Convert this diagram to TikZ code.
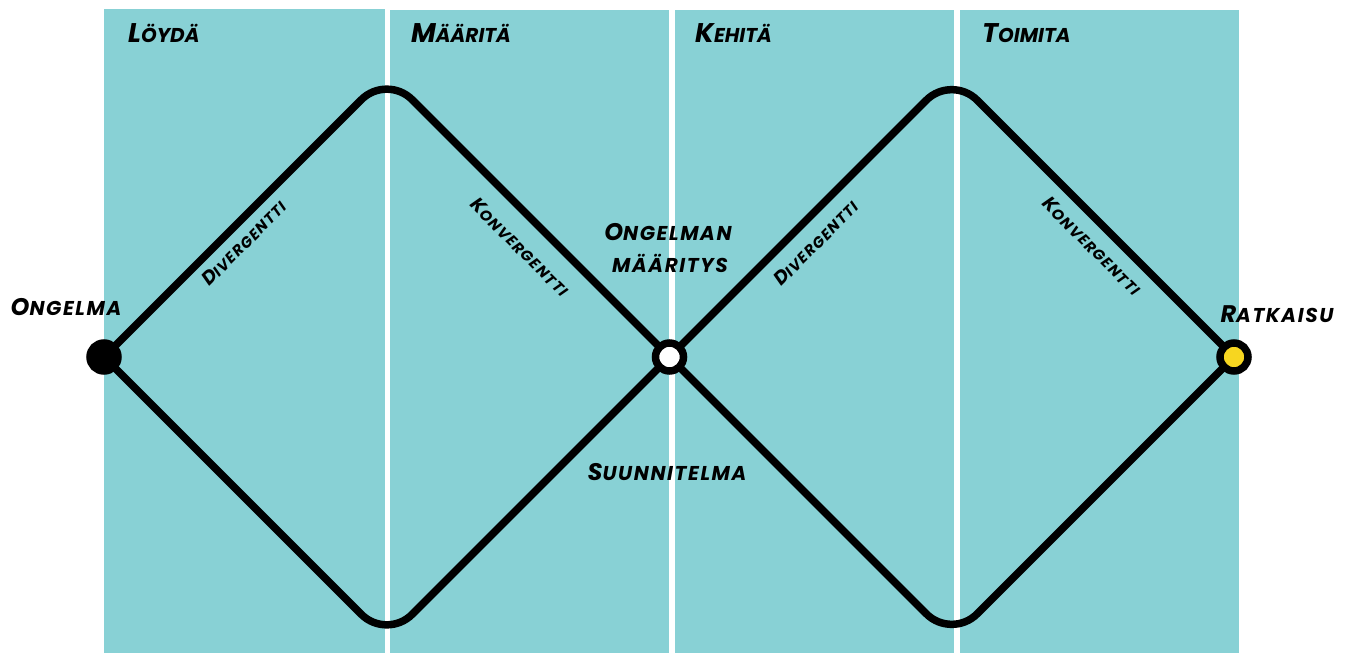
\documentclass[tikz,border=0pt]{standalone}
\usepackage{fontspec}
\setmainfont{Poppins}
\newfontfamily\spaced{Poppins}[LetterSpace=8]
\definecolor{panel}{HTML}{88D1D5}
\definecolor{sun}{HTML}{F7D620}
\newcommand\tsc[4]{{\fontsize{#1}{#1}\selectfont #3}{\fontsize{#2}{#2}\selectfont #4}}
\tikzset{
  panelbox/.style={fill=panel, draw=none},
  title/.style={anchor=base west, inner sep=0pt, font=\bfseries\itshape},
  lbl/.style={inner sep=0pt, font=\spaced\bfseries\itshape, align=center},
  diag/.style={inner sep=0pt, font=\spaced\bfseries\itshape},
  track/.style={line width=7.5pt, rounded corners=36pt},
  dot/.style={circle, draw=black, line width=7.5pt, minimum size=28pt, inner sep=0pt}
}
\begin{document}
\begin{tikzpicture}[x=1pt,y=-1pt]
\useasboundingbox (0,0) rectangle (1347,653);
% panels
\fill[panelbox] (104,9) rectangle (385,653);
\fill[panelbox] (390,10) rectangle (669,653);
\fill[panelbox] (675,10) rectangle (954,653);
\fill[panelbox] (960,10) rectangle (1239,653);
% titles
\node[title] (t1) at (128,42) {\tsc{27}{20}{L}{ÖYDÄ}};
\node[title] (t2) at (411,42) {\tsc{27}{20}{M}{ÄÄRITÄ}};
\node[title] (t3) at (695,42) {\tsc{27}{20}{K}{EHITÄ}};
\node[title] (t4) at (982,42) {\tsc{27}{20}{T}{OIMITA}};
% coordinates
\coordinate (pL) at (104,357);
\coordinate (pM) at (669.5,357);
\coordinate (pR) at (1234,357);
\coordinate (top1) at (386.75,74.25);
\coordinate (bot1) at (386.75,639.75);
\coordinate (top2) at (951.75,74.75);
\coordinate (bot2) at (951.75,639.25);
% tracks
\draw[track] (pL) -- (top1) -- (pM);
\draw[track] (pL) -- (bot1) -- (pM);
\draw[track] (pM) -- (top2) -- (pR);
\draw[track] (pM) -- (bot2) -- (pR);
% dots
\node[dot, fill=black] (L) at (pL) {};
\node[dot, fill=white] (M) at (pM) {};
\node[dot, fill=sun] (R) at (pR) {};
% labels
\node[lbl, anchor=base] (lo) at (66,315) {\tsc{24}{20}{O}{NGELMA}};
\node[lbl, anchor=base] (lr) at (1277,322) {\tsc{24}{20}{R}{ATKAISU}};
\node[lbl, anchor=base] (lm1) at (668,240) {\tsc{24}{20}{O}{NGELMAN}};
\node[lbl, anchor=base] (lm2) at (670,272) {\fontsize{20}{20}\selectfont MÄÄRITYS};
\node[lbl, anchor=base] (ls) at (667,480) {\tsc{24}{20}{S}{UUNNITELMA}};
% diagonal labels
\node[diag, rotate=45] (d1) at (244,243) {\tsc{19}{15}{D}{IVERGENTTI}};
\node[diag, rotate=-45] (k1) at (520,247) {\tsc{19}{15}{K}{ONVERGENTTI}};
\node[diag, rotate=45] (d2) at (816,243) {\tsc{19}{15}{D}{IVERGENTTI}};
\node[diag, rotate=-45] (k2) at (1092,246) {\tsc{19}{15}{K}{ONVERGENTTI}};
\end{tikzpicture}
\end{document}
